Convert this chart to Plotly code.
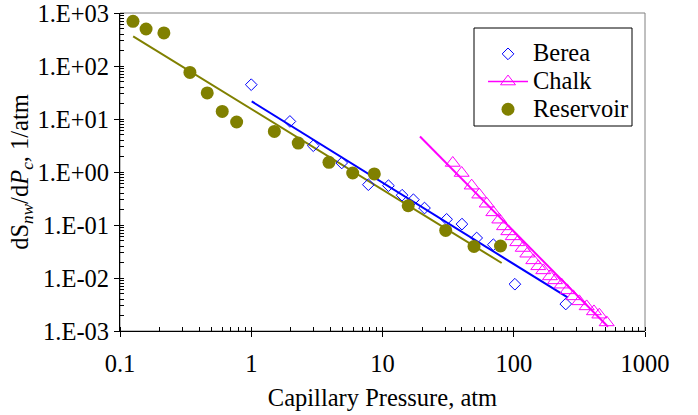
import plotly.graph_objects as go

# ---- data ----
berea_x = [1.0, 1.97, 2.97, 4.89, 7.8, 11.1, 14.1, 17.2, 20.9, 30.8, 40.3, 52.2, 69.9, 102, 249]
berea_y = [44.4, 9.0, 3.13, 1.48, 0.576, 0.552, 0.365, 0.30, 0.209, 0.128, 0.104, 0.0569, 0.0425, 0.00764, 0.00323]
berea_fit_x = [1.008, 259]
berea_fit_y = [21.5, 0.00425]

chalk_x = [34.3, 40.1, 47.8, 54.6, 62.2, 69.9, 77.6, 84.3, 90.9, 98.2, 106.4, 117.0, 126.8,
           140.9, 153.8, 167.9, 188.8, 206.2, 231.7, 255.6, 284.2, 315.8, 359.4, 408.3, 448.6, 510.5]
chalk_y = [1.48, 0.957, 0.552, 0.373, 0.252, 0.173, 0.126, 0.0941, 0.0757, 0.0610, 0.0470, 0.0368,
           0.0287, 0.0215, 0.0166, 0.0139, 0.0107, 0.00901, 0.00748, 0.00584, 0.00450, 0.00362,
           0.00291, 0.00234, 0.00203, 0.00145]
chalk_fit_x = [19.3, 523]
chalk_fit_y = [4.69, 0.0012]

res_x = [0.1256, 0.158, 0.216, 0.341, 0.462, 0.601, 0.774, 1.50, 2.28, 3.91, 5.93, 8.66, 15.7, 30.3, 49.8, 79.3]
res_y = [695, 499, 420, 75.7, 31.0, 13.9, 8.77, 5.83, 3.52, 1.52, 0.957, 0.92, 0.231, 0.079, 0.0394, 0.0402]
res_fit_x = [0.126, 80.9]
res_fit_y = [362, 0.0192]

x_ticks = [0.1, 1, 10, 100, 1000]
x_ticktext = ["0.1", "1", "10", "100", "1000"]
y_ticks = [1e-3, 1e-2, 1e-1, 1, 10, 100, 1000]
y_ticktext = ["1.E-03", "1.E-02", "1.E-01", "1.E+00", "1.E+01", "1.E+02", "1.E+03"]

BLUE = "#0000FF"
MAG = "#FF00FF"
OLIVE = "#808000"
FONT = "Liberation Serif, Times New Roman, Times, serif"
FS = 24.5

def lname(s):
    return "<span style='font-size:24.5px'>" + s + "</span>"

fig = go.Figure()

# fit lines
fig.add_trace(go.Scatter(x=res_fit_x, y=res_fit_y, mode="lines", line=dict(color=OLIVE, width=2), showlegend=False))
fig.add_trace(go.Scatter(x=berea_fit_x, y=berea_fit_y, mode="lines", line=dict(color=BLUE, width=2), showlegend=False))
fig.add_trace(go.Scatter(x=chalk_fit_x, y=chalk_fit_y, mode="lines", line=dict(color=MAG, width=2), showlegend=False))

# data
fig.add_trace(go.Scatter(x=berea_x, y=berea_y, mode="markers", name=lname("Berea"),
                         marker=dict(symbol="diamond-open", size=9, color=BLUE, line=dict(width=1, color=BLUE))))
fig.add_trace(go.Scatter(x=chalk_x, y=chalk_y, mode="markers", name="Chalk", showlegend=False,
                         marker=dict(symbol="triangle-up-open", size=13, color=MAG, line=dict(width=1, color=MAG))))
fig.add_trace(go.Scatter(x=[None], y=[None], mode="lines+markers", name=lname("Chalk"),
                         line=dict(color=MAG, width=1.5),
                         marker=dict(symbol="triangle-up-open", size=13, color=MAG, line=dict(width=1, color=MAG))))
fig.add_trace(go.Scatter(x=res_x, y=res_y, mode="markers", name=lname("Reservoir"),
                         marker=dict(symbol="circle", size=13, color=OLIVE)))

W, H = 698, 415
L, R, T, B = 120, 53, 13, 84
pw = W - L - R
ph = H - T - B

def px_x(p):
    return (p - L) / pw

def px_y(p):
    return (H - B - p) / ph

fig.update_layout(
    width=W, height=H,
    margin=dict(l=L, r=R, t=T, b=B, pad=0, autoexpand=False),
    paper_bgcolor="white", plot_bgcolor="white",
    font=dict(family=FONT, size=FS, color="black"),
    showlegend=True,
    legend=dict(x=px_x(483), y=px_y(35), xanchor="left", yanchor="top",
                bgcolor="rgba(0,0,0,0)", borderwidth=0, itemwidth=40,
                font=dict(family=FONT, size=19), tracegroupgap=0),
    xaxis=dict(type="log", range=[-1, 3], tickvals=x_ticks, ticktext=x_ticktext, automargin=False,
               ticks="outside", ticklen=5, tickwidth=1, tickcolor="black", ticklabelstandoff=6,
               ticklabeloverflow="allow",
               showline=True, linecolor="black", linewidth=1, showgrid=False, zeroline=False,
               minor=dict(ticks="inside", ticklen=4, tickcolor="black", dtick="D1", showgrid=False),
               title=dict(text="Capillary Pressure, atm", font=dict(family=FONT, size=FS), standoff=12)),
    yaxis=dict(type="log", range=[-3, 3], tickvals=y_ticks, ticktext=y_ticktext, automargin=False,
               ticks="outside", ticklen=5, tickwidth=1, tickcolor="black",
               ticklabeloverflow="allow",
               showline=True, linecolor="black", linewidth=1, showgrid=False, zeroline=False,
               minor=dict(ticks="inside", ticklen=4, tickcolor="black", dtick="D1", showgrid=False),
               title=dict(text="dS<sub><i>nw</i></sub>/d<i>P<sub>c</sub></i>, 1/atm",
                          font=dict(family=FONT, size=FS), standoff=0)),
    xaxis2=dict(type="log", range=[-1, 3], overlaying="x", tickvals=x_ticks, showticklabels=False, automargin=False,
                ticks="inside", ticklen=4, tickcolor="black", showline=False, showgrid=False, zeroline=False),
    shapes=[
        dict(type="rect", xref="paper", yref="paper", x0=0, x1=1, y0=0, y1=1,
             line=dict(color="#808080", width=1), layer="below"),
        dict(type="rect", xref="paper", yref="paper", x0=px_x(474), x1=px_x(632), y0=px_y(126), y1=px_y(28),
             line=dict(color="black", width=1), fillcolor="white", layer="below"),
    ],
)

fig.write_html("out.html")
